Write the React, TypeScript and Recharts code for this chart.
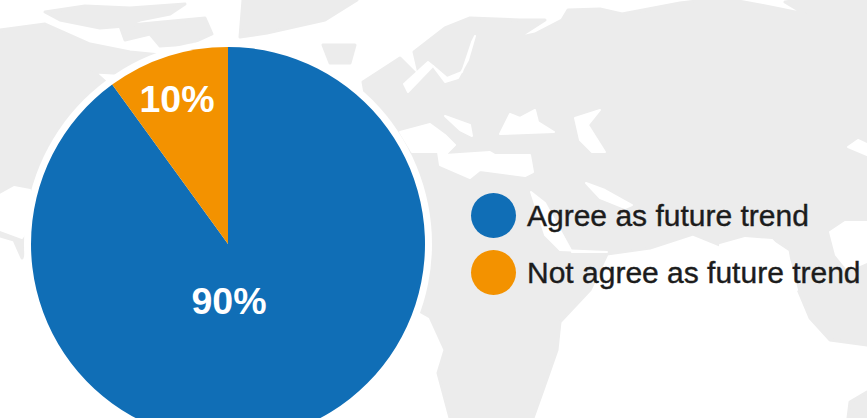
import { PieChart, Pie, Cell, Legend } from 'recharts'

const categories = ['Agree as future trend', 'Not agree as future trend']
const shares = [90, 10]
const colors = ['#106eb6', '#f39200']

const rows = categories.map((name, i) => ({ name, value: shares[i] }))

const W = 867
const H = 418
const CX = 228
const CY = 244
const R = 197
const LAND = '#ececec'

// where the percent labels sit, relative to the pie centre
const labelOffsets = [{ dx: 1, dy: 57 }, { dx: -51, dy: -145 }]

// backdrop world map, hand traced and deliberately rough
const land = [
  // Eurasia and Africa
  'M414,52 L445,28 L470,18 L520,20 L545,20 L517,38 L535,34 L562,20 L568,10 L600,9 L622,14 L680,3 L705,0 L733,0 L760,5 L805,14 L785,2 L800,0 L867,0 L867,345 L830,340 L810,318 L797,287 L790,250 L772,238 L745,238 L720,245 L693,234 L650,248 L607,254 L590,290 L560,322 L557,350 L543,390 L533,418 L450,418 L438,373 L445,350 L430,317 L400,300 L380,180 L363,82 L400,58 L420,78 Z',
  // North America
  'M0,30 L45,24 L90,44 L130,52 L170,56 L150,75 L95,72 L90,68 L120,95 L60,150 L35,215 L22,258 L14,240 L0,236 Z',
  // Arctic islands and Greenland
  'M45,12 L85,6 L130,8 L185,4 L170,14 L140,20 L125,26 L100,28 L60,20 Z',
  'M120,26 L205,18 L212,34 L190,44 L160,46 L150,34 L125,40 Z',
  'M243,0 L357,0 L325,20 L267,33 L240,37 Z',
  'M323,45 L355,45 L350,63 L330,63 Z',
  // Australia corner
  'M850,402 L867,392 L867,418 L848,418 Z',
]

// seas and lakes cut back out of the land
const seas = [
  // Baltic
  'M433,66 L408,92 L404,84 L428,62 Z',
  'M433,66 L447,78 L462,72 L472,42 L475,36 L468,60 L458,78 L445,82 Z',
  // Mediterranean
  'M400,132 L430,124 L445,135 L455,145 L445,155 L490,152 L495,155 L530,155 L533,172 L525,176 L480,170 L470,178 L440,165 L438,152 L412,152 Z',
  'M445,116 L470,125 L472,136 L460,130 Z',
  // Black Sea and Caspian
  'M500,134 L510,114 L520,118 L535,110 L538,122 L554,132 Z',
  'M575,118 L600,110 L588,125 L605,152 L592,152 L580,140 Z',
  // Persian Gulf and Red Sea
  'M586,183 L605,190 L632,205 L625,208 L600,198 Z',
  'M531,192 L545,203 L572,252 L607,252 L560,250 L545,235 Z',
  // Arabian Sea and Bay of Bengal
  'M720,245 L745,238 L772,240 L790,262 L797,290 L720,293 Z',
  'M830,232 L845,222 L867,222 L867,262 L848,270 L836,255 Z',
  // Sea of Japan, Gulf of Mexico
  'M848,147 L858,140 L867,144 L867,155 Z',
  'M0,195 L14,187 L30,190 L30,225 L22,238 L0,230 Z',
]

const renderPercent = ({ cx, cy, index, value }: any) => {
  const at = labelOffsets[index]
  return (
    <text
      x={cx + at.dx}
      y={cy + at.dy}
      fill="#fff"
      fontSize={37.5}
      fontWeight={700}
      fontFamily="'Liberation Sans', Arial, sans-serif"
      textAnchor="middle"
      dominantBaseline="central"
    >
      {value}%
    </text>
  )
}

const renderLegend = () => (
  <div>
    {rows.map((r, i) => (
      <div key={r.name} style={{ display: 'flex', alignItems: 'center', height: 57 }}>
        <span style={{ width: 45, height: 45, borderRadius: '50%', background: colors[i], flex: 'none' }} />
        <span style={{ marginLeft: 11, fontSize: 30, color: '#1c1c1c', whiteSpace: 'nowrap', WebkitTextStroke: '0.4px #1c1c1c' }}>
          {r.name}
        </span>
      </div>
    ))}
  </div>
)

export default function App() {
  return (
    <div style={{ position: 'fixed', left: 0, top: 0, width: W, height: H, overflow: 'hidden', background: '#fff', fontFamily: "'Liberation Sans', Arial, sans-serif" }}>
      <svg width={W} height={H} style={{ position: 'absolute', left: 0, top: 0 }}>
        {land.map((d, i) => <path key={i} d={d} fill={LAND} stroke={LAND} strokeWidth={3} strokeLinejoin="round" />)}
        {seas.map((d, i) => <path key={i} d={d} fill="#fff" stroke="#fff" strokeWidth={2} strokeLinejoin="round" />)}
        <circle cx={CX} cy={CY} r={R + 7} fill="#fff" />
      </svg>
      <PieChart width={W} height={H} style={{ position: 'absolute', left: 0, top: 0 }} margin={{ top: 0, right: 0, bottom: 0, left: 0 }}>
        <Pie
          data={rows}
          dataKey="value"
          nameKey="name"
          cx={CX}
          cy={CY}
          outerRadius={R}
          startAngle={90}
          endAngle={-270}
          stroke="none"
          label={renderPercent}
          labelLine={false}
          isAnimationActive={false}
        >
          {rows.map((r, i) => <Cell key={r.name} fill={colors[i]} />)}
        </Pie>
        <Legend
          layout="vertical"
          content={renderLegend}
          wrapperStyle={{ left: 471, top: 187, width: 396, bottom: 'auto' }}
        />
      </PieChart>
    </div>
  )
}
